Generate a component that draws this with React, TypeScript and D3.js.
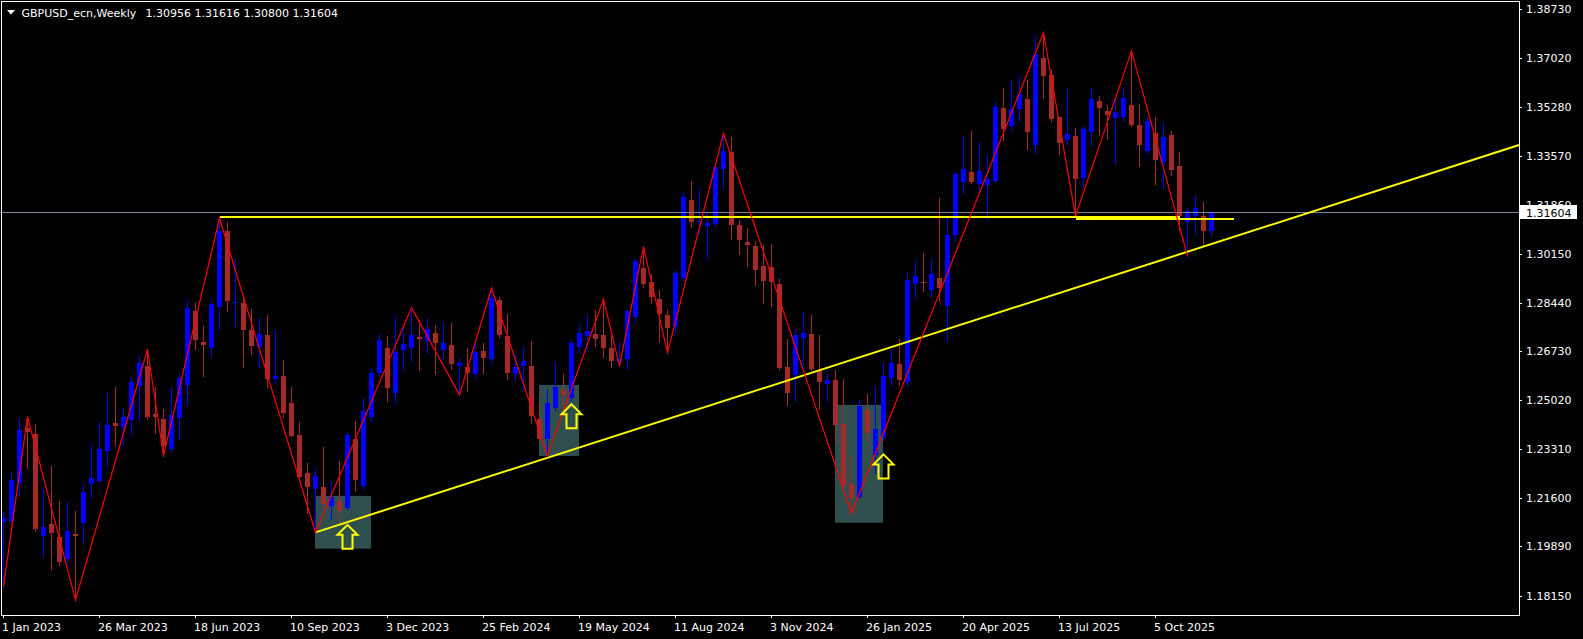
import React from 'react';
import * as d3 from 'd3';

// weekly GBPUSD bars, first bar = week of 1 Jan 2023
const opens = [
  1.2076, 1.2078, 1.2212, 1.2403, 1.2383, 1.2027, 1.2067, 1.2021, 1.1945, 1.2032,
  1.2070, 1.2209, 1.2218, 1.2323, 1.2420, 1.2406, 1.2432, 1.2552, 1.2623, 1.2453,
  1.2434, 1.2330, 1.2440, 1.2555, 1.2814, 1.2706, 1.2686, 1.2828, 1.3095, 1.2841,
  1.2842, 1.2748, 1.2688, 1.2731, 1.2577, 1.2586, 1.2493, 1.2379, 1.2246, 1.2189,
  1.2198, 1.2131, 1.2148, 1.2125, 1.2365, 1.2201, 1.2443, 1.2597, 1.2685, 1.2527,
  1.2677, 1.2686, 1.2723, 1.2709, 1.2737, 1.2679, 1.2695, 1.2622, 1.2618, 1.2594,
  1.2674, 1.2645, 1.2853, 1.2727, 1.2594, 1.2622, 1.2621, 1.2436, 1.2365, 1.2475,
  1.2537, 1.2508, 1.2688, 1.2728, 1.2734, 1.2730, 1.2685, 1.2636, 1.2646, 1.2793,
  1.2965, 1.2916, 1.2856, 1.2800, 1.2758, 1.2930, 1.3203, 1.3125, 1.3113, 1.3119,
  1.3312, 1.3372, 1.3116, 1.3056, 1.3042, 1.2972, 1.2968, 1.2909, 1.2618, 1.2590,
  1.2720, 1.2734, 1.2607, 1.2558, 1.2572, 1.2418, 1.2208, 1.2163, 1.2467, 1.2309,
  1.2368, 1.2579, 1.2628, 1.2565, 1.2909, 1.2916, 1.2888, 1.2930, 1.2833, 1.3081,
  1.3268, 1.3302, 1.3261, 1.3256, 1.3270, 1.3526, 1.3463, 1.3522, 1.3558, 1.3396,
  1.3701, 1.3642, 1.3494, 1.3414, 1.3428, 1.3281, 1.3442, 1.3551, 1.3515, 1.3491,
  1.3494, 1.3536, 1.3466, 1.3375, 1.3438, 1.3337, 1.3431, 1.3323, 1.3126, 1.3147,
  1.3147, 1.30956,
];

const highs = [
  1.2110, 1.2245, 1.2434, 1.2444, 1.2417, 1.2195, 1.2271, 1.2148, 1.2140, 1.2113,
  1.2204, 1.2344, 1.2420, 1.2526, 1.2548, 1.2473, 1.2582, 1.2652, 1.2680, 1.2548,
  1.2471, 1.2543, 1.2590, 1.2849, 1.2841, 1.2762, 1.2849, 1.3139, 1.3125, 1.2997,
  1.2859, 1.2821, 1.2790, 1.2800, 1.2748, 1.2642, 1.2549, 1.2426, 1.2280, 1.2260,
  1.2338, 1.2218, 1.2288, 1.2389, 1.2429, 1.2506, 1.2615, 1.2734, 1.2727, 1.2794,
  1.2765, 1.2826, 1.2783, 1.2786, 1.2765, 1.2776, 1.2772, 1.2645, 1.2685, 1.2701,
  1.2702, 1.2894, 1.2864, 1.2804, 1.2663, 1.2683, 1.2709, 1.2499, 1.2541, 1.2635,
  1.2593, 1.2713, 1.2765, 1.2800, 1.2818, 1.2856, 1.2730, 1.2701, 1.2818, 1.2996,
  1.3040, 1.2943, 1.2888, 1.2818, 1.2954, 1.3233, 1.3270, 1.3242, 1.3162, 1.3326,
  1.3437, 1.3424, 1.3133, 1.3105, 1.3060, 1.3046, 1.3049, 1.2926, 1.2716, 1.2751,
  1.2811, 1.2800, 1.2730, 1.2593, 1.2607, 1.2576, 1.2306, 1.2502, 1.2523, 1.2551,
  1.2632, 1.2677, 1.2716, 1.2947, 1.2990, 1.3018, 1.2993, 1.3210, 1.3140, 1.3302,
  1.3428, 1.3445, 1.3407, 1.3361, 1.3542, 1.3596, 1.3621, 1.3635, 1.3624, 1.3775,
  1.3790, 1.3663, 1.3494, 1.3593, 1.3456, 1.3463, 1.3596, 1.3568, 1.3536, 1.3558,
  1.3593, 1.3726, 1.3540, 1.3494, 1.3494, 1.3473, 1.3445, 1.3372, 1.3175, 1.3217,
  1.3196, 1.31616,
];

const lows = [
  1.1848, 1.2070, 1.2169, 1.2263, 1.2044, 1.1956, 1.1911, 1.1924, 1.1930, 1.1801,
  1.2005, 1.2163, 1.2213, 1.2272, 1.2341, 1.2348, 1.2384, 1.2432, 1.2436, 1.2388,
  1.2307, 1.2323, 1.2367, 1.2485, 1.2681, 1.2587, 1.2656, 1.2750, 1.2815, 1.2762,
  1.2619, 1.2665, 1.2617, 1.2547, 1.2561, 1.2444, 1.2376, 1.2231, 1.2107, 1.2038,
  1.2124, 1.2085, 1.2071, 1.2120, 1.2183, 1.2190, 1.2432, 1.2587, 1.2500, 1.2496,
  1.2607, 1.2642, 1.2607, 1.2670, 1.2593, 1.2646, 1.2611, 1.2520, 1.2535, 1.2578,
  1.2597, 1.2635, 1.2724, 1.2575, 1.2572, 1.2538, 1.2423, 1.2358, 1.2306, 1.2465,
  1.2474, 1.2502, 1.2670, 1.2677, 1.2691, 1.2653, 1.2618, 1.2621, 1.2611, 1.2776,
  1.2899, 1.2842, 1.2706, 1.2668, 1.2741, 1.2923, 1.3109, 1.3084, 1.3000, 1.3112,
  1.3245, 1.3067, 1.3014, 1.2972, 1.2905, 1.2842, 1.2832, 1.2611, 1.2485, 1.2502,
  1.2621, 1.2607, 1.2471, 1.2499, 1.2351, 1.2201, 1.2105, 1.2158, 1.2362, 1.2245,
  1.2362, 1.2558, 1.2555, 1.2555, 1.2860, 1.2884, 1.2867, 1.2850, 1.2710, 1.3063,
  1.3233, 1.3262, 1.3227, 1.3137, 1.3268, 1.3414, 1.3449, 1.3484, 1.3382, 1.3368,
  1.3561, 1.3480, 1.3365, 1.3400, 1.3147, 1.3252, 1.3400, 1.3431, 1.3417, 1.3333,
  1.3484, 1.3463, 1.3323, 1.3368, 1.3259, 1.3245, 1.3291, 1.3098, 1.3007, 1.3084,
  1.3046, 1.30800,
];

const closes = [
  1.2090, 1.2222, 1.2397, 1.2391, 1.2050, 1.2056, 1.2037, 1.1935, 1.2043, 1.2027,
  1.2178, 1.2229, 1.2329, 1.2413, 1.2412, 1.2441, 1.2565, 1.2632, 1.2443, 1.2443,
  1.2341, 1.2450, 1.2578, 1.2825, 1.2713, 1.2696, 1.2839, 1.3095, 1.2849, 1.2845,
  1.2749, 1.2693, 1.2734, 1.2577, 1.2586, 1.2458, 1.2377, 1.2233, 1.2198, 1.2237,
  1.2138, 1.2163, 1.2113, 1.2379, 1.2222, 1.2464, 1.2597, 1.2713, 1.2545, 1.2670,
  1.2699, 1.2730, 1.2716, 1.2751, 1.2702, 1.2702, 1.2628, 1.2632, 1.2597, 1.2670,
  1.2649, 1.2861, 1.2730, 1.2597, 1.2618, 1.2639, 1.2446, 1.2365, 1.2492, 1.2548,
  1.2520, 1.2702, 1.2737, 1.2744, 1.2716, 1.2685, 1.2639, 1.2646, 1.2814, 1.2990,
  1.2909, 1.2863, 1.2804, 1.2755, 1.2947, 1.3213, 1.3126, 1.3130, 1.3123, 1.3319,
  1.3375, 1.3116, 1.3063, 1.3047, 1.2958, 1.2919, 1.2916, 1.2614, 1.2527, 1.2730,
  1.2737, 1.2611, 1.2565, 1.2572, 1.2415, 1.2204, 1.2160, 1.2481, 1.2387, 1.2401,
  1.2586, 1.2632, 1.2572, 1.2923, 1.2937, 1.2912, 1.2944, 1.2894, 1.3081, 1.3295,
  1.3312, 1.3266, 1.3305, 1.3277, 1.3529, 1.3452, 1.3522, 1.3575, 1.3442, 1.3715,
  1.3638, 1.3487, 1.3403, 1.3435, 1.3277, 1.3452, 1.3558, 1.3526, 1.3501, 1.3512,
  1.3561, 1.3466, 1.3396, 1.3480, 1.3344, 1.3424, 1.3309, 1.3147, 1.3165, 1.3176,
  1.3095, 1.31604,
];

const dateLabels = [
  '1 Jan 2023', '26 Mar 2023', '18 Jun 2023', '10 Sep 2023', '3 Dec 2023', '25 Feb 2024',
  '19 May 2024', '11 Aug 2024', '3 Nov 2024', '26 Jan 2025', '20 Apr 2025', '13 Jul 2025', '5 Oct 2025',
];
const dateBars = [0, 12, 24, 36, 48, 60, 72, 84, 96, 108, 120, 132, 144];

const priceTicks = [
  1.3873, 1.3702, 1.3528, 1.3357, 1.3186, 1.3015, 1.2844, 1.2673, 1.2502, 1.2331, 1.216, 1.1989, 1.1815,
];

const lastPrice = 1.31604;
const header = 'GBPUSD_ecn,Weekly';
const headerPrices = '1.30956 1.31616 1.30800 1.31604';

// zigzag turning points (bar index, H = high / L = low)
const zigzagBars = [0, 3, 9, 18, 20, 27, 39, 51, 57, 61, 68, 75, 77, 80, 83, 90, 106, 130, 134, 141, 148];
const zigzagSides = ['L', 'H', 'L', 'H', 'L', 'H', 'L', 'H', 'L', 'H', 'L', 'H', 'L', 'H', 'L', 'H', 'L', 'H', 'L', 'H', 'L'];

// rising trend line anchors
const trendBars = [39, 148];
const trendPrices = [1.2038, 1.3022];

// horizontal levels
const levelFrom = [27, 134];
const levelTo = [147, 153.8];
const levelPrice = [1.3143, 1.3137];

// shaded zones
const zoneFrom = [39, 67, 104];
const zoneTo = [46, 72, 110];
const zoneTop = [1.2166, 1.2555, 1.2485];
const zoneBottom = [1.1981, 1.2306, 1.2072];

// up arrows
const arrowBars = [43, 71, 110];
const arrowPrices = [1.2068, 1.2491, 1.2315];

const W = 1583;
const H = 639;
const plotRight = 1519;
const plotBottom = 615;
const font = '"DejaVu Sans", Tahoma, sans-serif';
const bull = '#0000FF';
const bear = '#A52A2A';

const App: React.FC = () => {
  const x = d3.scaleLinear().domain([0, 151]).range([3.5, 1211.5]);
  const y = d3.scaleLinear().domain([1.1815, 1.3873]).range([596, 9]);
  const fmt = d3.format('.5f');

  const zz = zigzagBars.map((b, k) => [x(b), y(zigzagSides[k] === 'H' ? highs[b] : lows[b])] as [number, number]);
  const line = d3.line<[number, number]>().x(d => d[0]).y(d => d[1]);

  const slope = (trendPrices[1] - trendPrices[0]) / (trendBars[1] - trendBars[0]);
  const endBar = x.invert(plotRight);
  const trendPts: [number, number][] = [
    [x(trendBars[0]), y(trendPrices[0])],
    [x(endBar), y(trendPrices[0] + slope * (endBar - trendBars[0]))],
  ];

  const lastY = Math.round(y(lastPrice)) + 0.5;

  return (
    <svg
      width={W}
      height={H}
      style={{ position: 'absolute', left: 0, top: 0, background: '#000', display: 'block' }}
      fontFamily={font}
      fontSize={11}
    >
      <rect x={0} y={0} width={W} height={H} fill="#000" />

      {zoneFrom.map((b, k) => (
        <rect
          key={'z' + k}
          x={x(b) - 0.5}
          y={y(zoneTop[k])}
          width={x(zoneTo[k]) - x(b)}
          height={y(zoneBottom[k]) - y(zoneTop[k])}
          fill="#2F4F4F"
        />
      ))}

      {opens.map((o, i) => {
        const c = closes[i];
        const col = c >= o ? bull : bear;
        const cx = x(i);
        const top = Math.round(y(Math.max(o, c)));
        const bot = Math.round(y(Math.min(o, c)));
        return (
          <g key={i} shapeRendering="crispEdges">
            <line x1={cx} x2={cx} y1={Math.round(y(highs[i]))} y2={Math.round(y(lows[i])) + 1} stroke={col} />
            <rect x={cx - 2.5} y={top} width={5} height={Math.max(1, bot - top)} fill={col} />
          </g>
        );
      })}

      <line x1={0} x2={plotRight} y1={lastY} y2={lastY} stroke="#778899" shapeRendering="crispEdges" />

      {levelFrom.map((b, k) => (
        <line
          key={'l' + k}
          x1={x(b)}
          x2={x(levelTo[k])}
          y1={Math.round(y(levelPrice[k]))}
          y2={Math.round(y(levelPrice[k]))}
          stroke="#FFFF00"
          strokeWidth={2}
          shapeRendering="crispEdges"
        />
      ))}

      <path d={line(trendPts) || ''} fill="none" stroke="#FFFF00" strokeWidth={2} />
      <path d={line(zz) || ''} fill="none" stroke="#FF0000" strokeWidth={1.2} />

      {arrowBars.map((b, k) => (
        <path
          key={'a' + k}
          transform={`translate(${x(b)},${y(arrowPrices[k])})`}
          d="M0,1 L10,11 L5,11 L5,25 L-5,25 L-5,11 L-10,11 Z"
          fill="none"
          stroke="#FFFF00"
          strokeWidth={2}
        />
      ))}

      {/* frame */}
      <rect x={1.5} y={1.5} width={plotRight - 1} height={plotBottom - 1} fill="none" stroke="#fff" shapeRendering="crispEdges" />

      {/* header */}
      <polygon points="7,10 15,10 11,14.5" fill="#fff" />
      <text x={21.5} y={16.5} fill="#fff">{header}</text>
      <text x={145.5} y={16.5} fill="#fff">{headerPrices}</text>

      {/* price axis */}
      {priceTicks.map(p => (
        <g key={p}>
          <line x1={plotRight} x2={plotRight + 3} y1={Math.round(y(p)) + 0.5} y2={Math.round(y(p)) + 0.5} stroke="#fff" shapeRendering="crispEdges" />
          <text x={1526} y={y(p) + 4} fill="#fff">{fmt(p)}</text>
        </g>
      ))}
      <rect x={1520} y={lastY - 7.5} width={57} height={14} fill="#fff" />
      <text x={1526} y={lastY + 4} fill="#000">{fmt(lastPrice)}</text>

      {/* time axis */}
      {dateBars.map((b, k) => (
        <g key={'d' + k}>
          <line x1={Math.floor(x(b)) + 0.5} x2={Math.floor(x(b)) + 0.5} y1={plotBottom} y2={plotBottom + 3} stroke="#fff" shapeRendering="crispEdges" />
          <text x={x(b) - 1.5} y={630.5} fill="#fff">{dateLabels[k]}</text>
        </g>
      ))}
    </svg>
  );
};

export default App;
